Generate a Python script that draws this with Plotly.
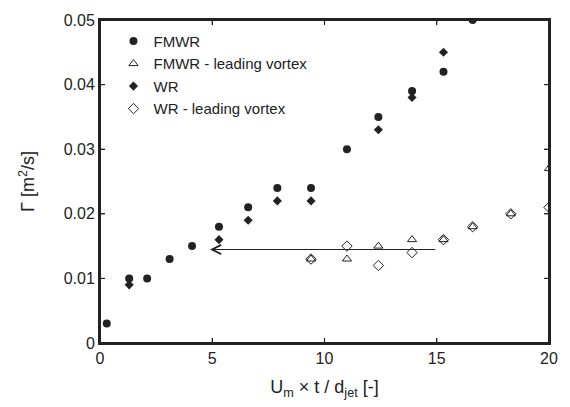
import plotly.graph_objects as go

# FMWR (filled circles)
fmwr_x = [0.3, 1.3, 2.1, 3.1, 4.1, 5.3, 6.6, 7.9, 9.4, 11.0, 12.4, 13.9, 15.3, 16.6]
fmwr_y = [0.003, 0.010, 0.010, 0.013, 0.015, 0.018, 0.021, 0.024, 0.024, 0.030, 0.035, 0.039, 0.042, 0.050]

# FMWR - leading vortex (open triangles)
fmwr_lv_x = [9.4, 11.0, 12.4, 13.9, 15.3, 16.6, 18.3, 20.0]
fmwr_lv_y = [0.013, 0.013, 0.015, 0.016, 0.016, 0.018, 0.020, 0.027]

# WR (filled diamonds)
wr_x = [1.3, 5.3, 6.6, 7.9, 9.4, 12.4, 13.9, 15.3]
wr_y = [0.009, 0.016, 0.019, 0.022, 0.022, 0.033, 0.038, 0.045]

# WR - leading vortex (open diamonds)
wr_lv_x = [9.4, 11.0, 12.4, 13.9, 15.3, 16.6, 18.3, 20.0]
wr_lv_y = [0.013, 0.015, 0.012, 0.014, 0.016, 0.018, 0.020, 0.021]

legend_names = ["FMWR", "FMWR - leading vortex", "WR", "WR - leading vortex"]

# arrow (shift of the leading vortex)
arrow_start_x = 15.0
arrow_end_x = 4.9
arrow_y = 0.01447

x_range = [0, 20]
y_range = [0, 0.05]
x_ticks = [0, 5, 10, 15, 20]
y_ticks = [0, 0.01, 0.02, 0.03, 0.04, 0.05]
y_ticktext = ["0", "0.01", "0.02", "0.03", "0.04", "0.05"]

FONT = "Liberation Sans, Arial, sans-serif"
INK = "#222222"

fig = go.Figure()

# plot frame drawn from the axis ranges, plus inside tick marks on all four sides
frame_x = [x_range[0], x_range[1], x_range[1], x_range[0], x_range[0]]
frame_y = [y_range[0], y_range[0], y_range[1], y_range[1], y_range[0]]
fig.add_trace(go.Scatter(x=frame_x, y=frame_y, mode="lines", showlegend=False,
                         hoverinfo="skip", cliponaxis=False,
                         line=dict(color=INK, width=2)))
tlx = (x_range[1] - x_range[0]) * 5 / 458
tly = (y_range[1] - y_range[0]) * 5 / 326
tx, ty = [], []
for v in x_ticks[1:-1]:
    tx += [v, v, None, v, v, None]
    ty += [y_range[0], y_range[0] + tly, None, y_range[1], y_range[1] - tly, None]
for v in y_ticks[1:-1]:
    tx += [x_range[0], x_range[0] + tlx, None, x_range[1], x_range[1] - tlx, None]
    ty += [v, v, None, v, v, None]
fig.add_trace(go.Scatter(x=tx, y=ty, mode="lines", showlegend=False, hoverinfo="skip",
                         line=dict(color=INK, width=1.2)))

fig.add_trace(go.Scatter(x=fmwr_x, y=fmwr_y, mode="markers", name=legend_names[0],
                         marker=dict(symbol="circle", size=8, color=INK)))
fig.add_trace(go.Scatter(x=fmwr_lv_x, y=fmwr_lv_y, mode="markers", name=legend_names[1],
                         marker=dict(symbol="triangle-up-open", size=8, color=INK,
                                     line=dict(width=1, color=INK))))
fig.add_trace(go.Scatter(x=wr_x, y=wr_y, mode="markers", name=legend_names[2],
                         marker=dict(symbol="diamond", size=7, color=INK)))
fig.add_trace(go.Scatter(x=wr_lv_x, y=wr_lv_y, mode="markers", name=legend_names[3],
                         marker=dict(symbol="diamond-open", size=8, color=INK,
                                     line=dict(width=1, color=INK))))

fig.add_annotation(x=arrow_end_x, y=arrow_y, ax=arrow_start_x, ay=arrow_y,
                   xref="x", yref="y", axref="x", ayref="y", text="",
                   showarrow=True, arrowhead=5, arrowsize=1.5, arrowwidth=1.2,
                   arrowcolor=INK)


def axis(**kw):
    d = dict(showline=True, linecolor=INK, linewidth=2, mirror="allticks",
             ticks="inside", ticklen=5, tickwidth=1.2, tickcolor=INK,
             gridcolor="rgba(0,0,0,0)", zerolinecolor="rgba(0,0,0,0)",
             tickfont=dict(family=FONT, size=16, color=INK))
    d.update(kw)
    return d


fig.update_layout(
    width=570, height=407,
    margin=dict(l=100, r=12, t=17, b=64),
    paper_bgcolor="white", plot_bgcolor="white",
    font=dict(family=FONT, color=INK),
    showlegend=True,
    legend=dict(x=0.03, y=0.985, xanchor="left", yanchor="top",
                bgcolor="rgba(0,0,0,0)", font=dict(family=FONT, size=15, color=INK),
                tracegroupgap=0),
    xaxis=axis(range=x_range, tickvals=x_ticks,
               title=dict(text="U<sub>m</sub> × t / d<sub>jet</sub> [-]",
                          font=dict(family=FONT, size=18), standoff=14)),
    yaxis=axis(range=y_range, tickvals=y_ticks, ticktext=y_ticktext,
               title=dict(text="Γ [m<sup>2</sup>/s]",
                          font=dict(family=FONT, size=18), standoff=24)),
)

fig.write_html("out.html", config={"displayModeBar": False},
               post_script="document.body.style.margin='0';")
